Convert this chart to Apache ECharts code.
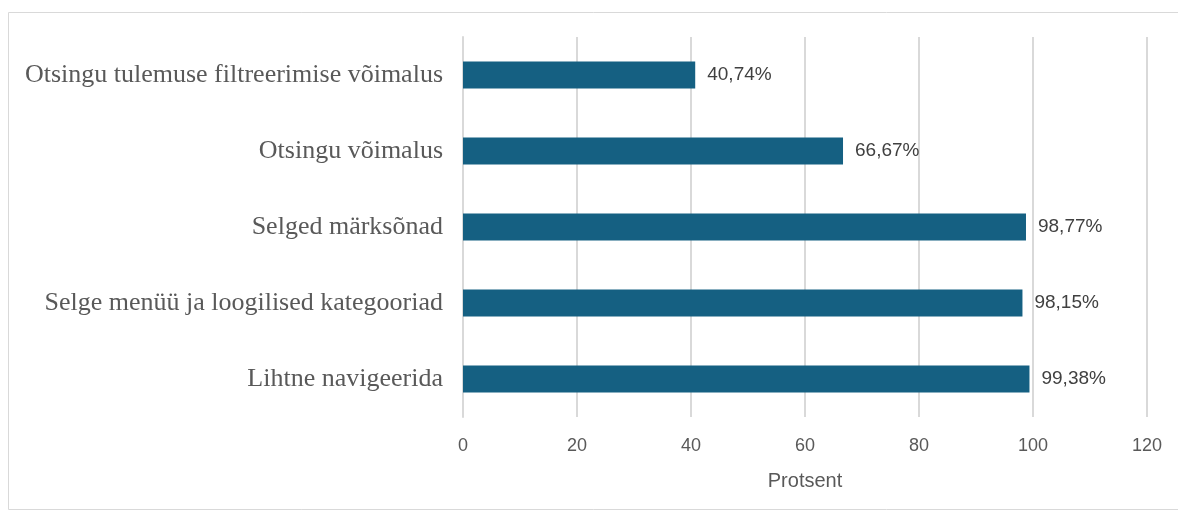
<!DOCTYPE html>
<html><head><meta charset="utf-8">
<script src="https://cdn.jsdelivr.net/npm/echarts@6/dist/echarts.min.js"></script>
<style>html,body{margin:0;padding:0;background:#fff}#c{width:1178px;height:515px}</style>
</head><body><div id="c"></div>
<script>
const categories = ["Lihtne navigeerida","Selge menüü ja loogilised kategooriad","Selged märksõnad","Otsingu võimalus","Otsingu tulemuse filtreerimise võimalus"];
const values = [99.38, 98.15, 98.77, 66.67, 40.74];
const axisTitle = "Protsent";
const chart = echarts.init(document.getElementById('c'), null, {renderer:'canvas'});
const sans = '"Liberation Sans", Arial, sans-serif';
chart.setOption({
  animation:false,
  graphic:[{type:'rect',shape:{x:8.5,y:12.5,width:1200,height:497},style:{fill:'none',stroke:'#d9d9d9',lineWidth:1}}],
  grid:{left:463,right:31,top:37,bottom:98},
  xAxis:{type:'value',min:0,max:120,interval:20,
    name:axisTitle,nameLocation:'middle',nameGap:54,
    nameTextStyle:{fontFamily:sans,fontSize:20,color:'#595959'},
    axisLine:{show:false},axisTick:{show:false},
    axisLabel:{fontFamily:sans,fontSize:18,color:'#595959',margin:20},
    splitLine:{lineStyle:{color:'#d9d9d9',width:2}}},
  yAxis:{type:'category',data:categories,
    axisLine:{show:true,lineStyle:{color:'#d9d9d9',width:2}},axisTick:{show:false},
    axisLabel:{fontFamily:'"Liberation Serif","Times New Roman",serif',fontSize:26,color:'#595959',margin:20,padding:[4,0,0,0]}},
  series:[{type:'bar',data:values,barWidth:27,itemStyle:{color:'#156082'},
    label:{show:true,position:'right',distance:12,fontFamily:sans,fontSize:19,color:'#404040',
      formatter:p=>p.value.toFixed(2).replace('.',',')+'%'}}]
});
</script></body></html>
